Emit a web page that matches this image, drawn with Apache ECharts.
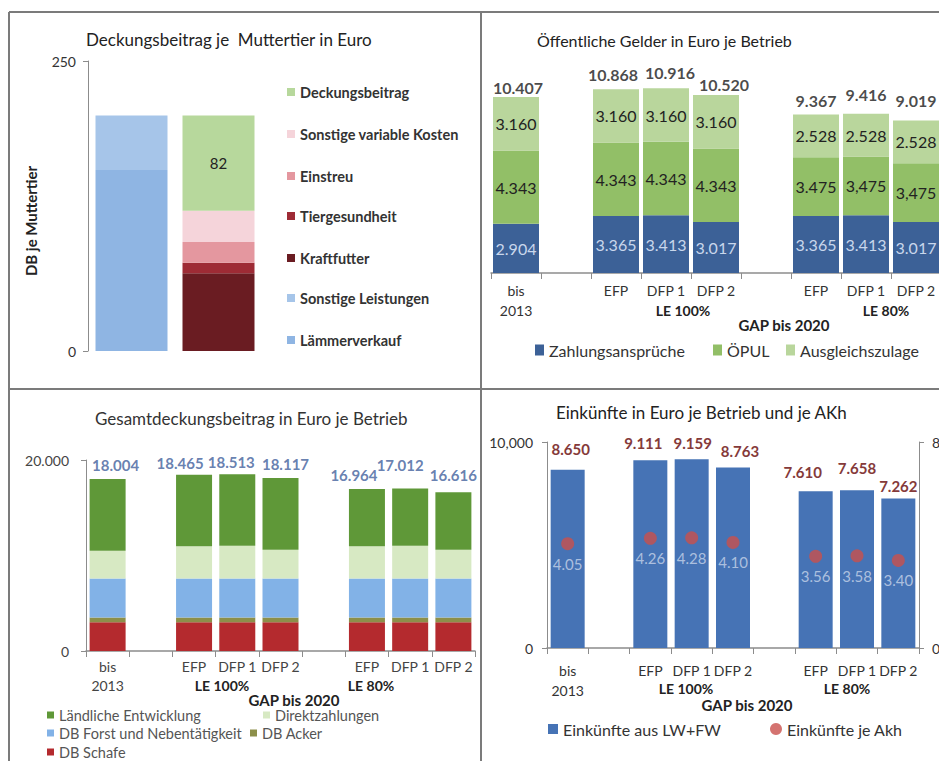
<!DOCTYPE html>
<html>
<head>
<meta charset="utf-8">
<title>Schafhaltung - GAP bis 2020</title>
<script src="https://cdn.jsdelivr.net/npm/echarts@6/dist/echarts.min.js"></script>
<style>
  html, body { margin: 0; padding: 0; background: #fff; }
  #chart { width: 939px; height: 761px; }
</style>
</head>
<body>
<div id="chart"></div>
<script>
// --- Deckungsbeitrag je Muttertier (oben links)
var dbCats = ['Leistungen', 'Kosten'];
var laemmerverkauf = [156, '-'];
var sonstigeLeistungen = [47, '-'];
var kraftfutter = ['-', 67];
var tiergesundheit = ['-', 9];
var einstreu = ['-', 18];
var sonstigeKosten = ['-', 27];
var deckungsbeitrag = ['-', 82];

// --- Szenarien (gleiche Kategorien in den anderen drei Grafiken)
var scenarios = ['bis\n2013', '', 'EFP', 'DFP 1', 'DFP 2', '', 'EFP', 'DFP 1', 'DFP 2'];

// --- Öffentliche Gelder in Euro je Betrieb (oben rechts)
var zahlungsansprueche = [2904, '-', 3365, 3413, 3017, '-', 3365, 3413, 3017];
var oepul = [4343, '-', 4343, 4343, 4343, '-', 3475, 3475, 3475];
var oepulText = ['4.343', '', '4.343', '4.343', '4.343', '', '3.475', '3,475', '3,475'];
var ausgleichszulage = [3160, '-', 3160, 3160, 3160, '-', 2528, 2528, 2528];
var gelderSumme = [10407, '-', 10868, 10916, 10520, '-', 9367, 9416, 9019];

// --- Gesamtdeckungsbeitrag in Euro je Betrieb (unten links)
var dbSchafe = [3000, '-', 3000, 3000, 3000, '-', 3000, 3000, 3000];
var dbAcker = [500, '-', 500, 500, 500, '-', 500, 500, 500];
var dbForst = [4097, '-', 4097, 4097, 4097, '-', 4097, 4097, 4097];
var direktzahlungen = [2904, '-', 3365, 3413, 3017, '-', 3365, 3413, 3017];
var laendlicheEntw = [7503, '-', 7503, 7503, 7503, '-', 6003, 6003, 6003];
var gdbSumme = [18004, '-', 18465, 18513, 18117, '-', 16964, 17012, 16616];

// --- Einkünfte in Euro je Betrieb und je AKh (unten rechts)
var einkuenfte = [8650, '-', 9111, 9159, 8763, '-', 7610, 7658, 7262];
var einkuenfteAkh = [4.05, '-', 4.26, 4.28, 4.10, '-', 3.56, 3.58, 3.40];

// label nudges, so the totals sit where Excel put them
var offGelder = [[2, -9], null, [-3, -15], [4, -16], [8, -11], null, [0, -14], [0, -19], [0, -20]];
var offGdb = [[8, -14], null, [-14, -12], [-6, -12], [5, -14], null, [-13, -14], [-10, -24], [0, -17]];
var offEink = [[3, -8], null, [-7, -5], [1, -4], [7, -4], null, [-13, -7], [0, -10], [0, 0]];

var FONT = 'Lato, "Open Sans", sans-serif';
var AXIS = '#8c8c8c';

function dot(v) { return String(v).replace(/\B(?=(\d{3})+(?!\d))/g, '.'); }
function comma(v) { return String(v).replace(/\B(?=(\d{3})+(?!\d))/g, ','); }

function withOffset(arr, offs) {
  return arr.map(function (v, i) {
    if (v === '-') return '-';
    return { value: v, label: { offset: offs[i] } };
  });
}

function legendAt(name, x, yMid, o) {
  o = o || {};
  return {
    data: [name], left: x, top: yMid - 9, padding: 0, selectedMode: false,
    icon: o.icon || 'rect', itemWidth: o.w || 8, itemHeight: o.h || 8,
    textStyle: {
      fontFamily: FONT, fontSize: o.size || 13, lineHeight: 18,
      fontWeight: o.bold ? 'bold' : 'normal', color: o.color || '#333'
    }
  };
}

function titleAt(text, x, yMid, size, color) {
  return {
    text: text, left: x, top: yMid - 10, padding: 0,
    textStyle: { fontFamily: FONT, fontSize: size, lineHeight: 20, fontWeight: 'normal', color: color || '#222' }
  };
}

function scenarioAxis(grid, margin, size, lh, color) {
  return {
    type: 'category', gridIndex: grid, data: scenarios,
    axisLine: { show: true, lineStyle: { color: AXIS, width: 1.5 } },
    axisTick: { show: true, interval: 0, length: 6, lineStyle: { color: AXIS } },
    axisLabel: { interval: 0, margin: margin, fontSize: size, lineHeight: lh, color: color, fontFamily: FONT },
    splitLine: { show: false }
  };
}

function valueAxis(grid, max, fmt, extra) {
  var ax = {
    type: 'value', gridIndex: grid, min: 0, max: max, interval: max,
    axisLine: { show: true, lineStyle: { color: AXIS } },
    axisTick: { show: true, length: 5, lineStyle: { color: AXIS } },
    axisLabel: { fontSize: 14, color: '#333', fontFamily: FONT, formatter: fmt },
    splitLine: { show: false }
  };
  return Object.assign(ax, extra || {});
}

function groupText(text, x, y, size) {
  return {
    type: 'text', x: x, y: y,
    style: { text: text, align: 'center', verticalAlign: 'middle', textAlign: 'center', textVerticalAlign: 'middle',
             font: 'bold ' + size + 'px ' + FONT, fill: '#222' }
  };
}

function line(x1, y1, x2, y2) {
  return { type: 'line', shape: { x1: x1, y1: y1, x2: x2, y2: y2 }, style: { stroke: '#7b7b7b', lineWidth: 2 } };
}

var chart = echarts.init(document.getElementById('chart'), null, { renderer: 'svg' });

var option = {
  animation: false,
  textStyle: { fontFamily: FONT },
  title: [
    titleAt('Deckungsbeitrag je  Muttertier in Euro', 86, 39, 17),
    titleAt('Öffentliche Gelder in Euro je Betrieb', 537, 40, 16),
    titleAt('Gesamtdeckungsbeitrag in Euro je Betrieb', 95, 418, 17, '#333'),
    titleAt('Einkünfte in Euro je Betrieb und je AKh', 556, 412, 17)
  ],
  legend: [
    legendAt('Deckungsbeitrag', 287, 92, { bold: true, size: 14.5 }),
    legendAt('Sonstige variable Kosten', 287, 134, { bold: true, size: 14.5 }),
    legendAt('Einstreu', 287, 176, { bold: true, size: 14.5 }),
    legendAt('Tiergesundheit', 287, 216, { bold: true, size: 14.5 }),
    legendAt('Kraftfutter', 287, 258, { bold: true, size: 14.5 }),
    legendAt('Sonstige Leistungen', 287, 298, { bold: true, size: 14.5 }),
    legendAt('Lämmerverkauf', 287, 340, { bold: true, size: 14.5 }),

    legendAt('Zahlungsansprüche', 535, 350, { w: 9, h: 11, size: 16 }),
    legendAt('ÖPUL', 713, 350, { w: 9, h: 11, size: 16 }),
    legendAt('Ausgleichszulage', 786, 350, { w: 9, h: 11, size: 16 }),

    legendAt('Ländliche Entwicklung', 47, 715, { w: 7, h: 7, size: 14.5, color: '#555' }),
    legendAt('Direktzahlungen', 263, 715, { w: 7, h: 7, size: 14.5, color: '#555' }),
    legendAt('DB Forst und Nebentätigkeit', 47, 733, { w: 7, h: 7, size: 14.5, color: '#555' }),
    legendAt('DB Acker', 250, 733, { w: 7, h: 7, size: 14.5, color: '#555' }),
    legendAt('DB Schafe', 47, 752, { w: 7, h: 7, size: 14.5, color: '#555' }),

    legendAt('Einkünfte aus LW+FW', 548, 729, { w: 10, h: 10, size: 16 }),
    legendAt('Einkünfte je Akh', 770, 729, { icon: 'circle', w: 12, h: 12, size: 16 })
  ],
  grid: [
    { left: 88, top: 61, width: 174, height: 290, outerBoundsMode: 'none' },
    { left: 491, top: 70, width: 450, height: 203, outerBoundsMode: 'none' },
    { left: 86, top: 460, width: 389, height: 191, outerBoundsMode: 'none' },
    { left: 547, top: 442, width: 372, height: 206, outerBoundsMode: 'none' }
  ],
  xAxis: [
    { type: 'category', gridIndex: 0, data: dbCats, show: false },
    scenarioAxis(1, 7, 14, 20, '#333'),
    scenarioAxis(2, 6, 14, 19, '#444'),
    scenarioAxis(3, 12, 14, 20, '#333')
  ],
  yAxis: [
    valueAxis(0, 250, null, { axisLabel: { fontSize: 14, color: '#333', fontFamily: FONT, margin: 12 } }),
    { type: 'value', gridIndex: 1, min: 0, max: 12000, show: false },
    valueAxis(2, 20000, function (v) { return dot(v); }, { axisLabel: { fontSize: 14, color: '#444', fontFamily: FONT, margin: 17, formatter: function (v) { return dot(v); } } }),
    valueAxis(3, 10000, function (v) { return comma(v); }, { axisLabel: { fontSize: 14, color: '#333', fontFamily: FONT, margin: 14, formatter: function (v) { return comma(v); } } }),
    valueAxis(3, 8, null, { position: 'right', axisLabel: { fontSize: 14, color: '#333', fontFamily: FONT, margin: 13 } })
  ],
  series: [
    // oben links
    { name: 'Lämmerverkauf', type: 'bar', xAxisIndex: 0, yAxisIndex: 0, stack: 'mt', barWidth: 72,
      data: laemmerverkauf, itemStyle: { color: '#8fb5e3' } },
    { name: 'Sonstige Leistungen', type: 'bar', xAxisIndex: 0, yAxisIndex: 0, stack: 'mt', barWidth: 72,
      data: sonstigeLeistungen, itemStyle: { color: '#a6c5e9' } },
    { name: 'Kraftfutter', type: 'bar', xAxisIndex: 0, yAxisIndex: 0, stack: 'mt', barWidth: 72,
      data: kraftfutter, itemStyle: { color: '#6a1c22' } },
    { name: 'Tiergesundheit', type: 'bar', xAxisIndex: 0, yAxisIndex: 0, stack: 'mt', barWidth: 72,
      data: tiergesundheit, itemStyle: { color: '#9e2b35' } },
    { name: 'Einstreu', type: 'bar', xAxisIndex: 0, yAxisIndex: 0, stack: 'mt', barWidth: 72,
      data: einstreu, itemStyle: { color: '#e4979f' } },
    { name: 'Sonstige variable Kosten', type: 'bar', xAxisIndex: 0, yAxisIndex: 0, stack: 'mt', barWidth: 72,
      data: sonstigeKosten, itemStyle: { color: '#f5d4da' } },
    { name: 'Deckungsbeitrag', type: 'bar', xAxisIndex: 0, yAxisIndex: 0, stack: 'mt', barWidth: 72,
      data: deckungsbeitrag, itemStyle: { color: '#b7d89c' },
      label: { show: true, position: 'inside', fontSize: 15, color: '#222' } },

    // oben rechts
    { name: 'Zahlungsansprüche', type: 'bar', xAxisIndex: 1, yAxisIndex: 1, stack: 'gelder', barWidth: 46,
      data: zahlungsansprueche, itemStyle: { color: '#3c6197' },
      label: { show: true, position: 'inside', fontSize: 16, color: '#c9d7ec', formatter: function (p) { return dot(p.value); } } },
    { name: 'ÖPUL', type: 'bar', xAxisIndex: 1, yAxisIndex: 1, stack: 'gelder', barWidth: 46,
      data: oepul, itemStyle: { color: '#92bf67' },
      label: { show: true, position: 'inside', fontSize: 16, color: '#222', formatter: function (p) { return oepulText[p.dataIndex]; } } },
    { name: 'Ausgleichszulage', type: 'bar', xAxisIndex: 1, yAxisIndex: 1, stack: 'gelder', barWidth: 46,
      data: ausgleichszulage, itemStyle: { color: '#b9d69c' },
      label: { show: true, position: 'inside', fontSize: 16, color: '#222', formatter: function (p) { return dot(p.value); } } },
    { name: 'Summe Gelder', type: 'scatter', xAxisIndex: 1, yAxisIndex: 1, symbolSize: 1, z: 5,
      data: withOffset(gelderSumme, offGelder), itemStyle: { color: 'rgba(0,0,0,0)' },
      label: { show: true, position: 'inside', fontSize: 16, fontWeight: 'bold', color: '#1a1a1a',
               formatter: function (p) { return dot(p.value); } } },

    // unten links
    { name: 'DB Schafe', type: 'bar', xAxisIndex: 2, yAxisIndex: 2, stack: 'gdb', barWidth: 36,
      data: dbSchafe, itemStyle: { color: '#b42a2e' } },
    { name: 'DB Acker', type: 'bar', xAxisIndex: 2, yAxisIndex: 2, stack: 'gdb', barWidth: 36,
      data: dbAcker, itemStyle: { color: '#8c8f4a' } },
    { name: 'DB Forst und Nebentätigkeit', type: 'bar', xAxisIndex: 2, yAxisIndex: 2, stack: 'gdb', barWidth: 36,
      data: dbForst, itemStyle: { color: '#82b2e7' } },
    { name: 'Direktzahlungen', type: 'bar', xAxisIndex: 2, yAxisIndex: 2, stack: 'gdb', barWidth: 36,
      data: direktzahlungen, itemStyle: { color: '#d7e9c3' } },
    { name: 'Ländliche Entwicklung', type: 'bar', xAxisIndex: 2, yAxisIndex: 2, stack: 'gdb', barWidth: 36,
      data: laendlicheEntw, itemStyle: { color: '#5f9838' } },
    { name: 'Summe GDB', type: 'scatter', xAxisIndex: 2, yAxisIndex: 2, symbolSize: 1, z: 5,
      data: withOffset(gdbSumme, offGdb), itemStyle: { color: 'rgba(0,0,0,0)' },
      label: { show: true, position: 'inside', fontSize: 15, fontWeight: 'bold', color: '#41609c',
               formatter: function (p) { return dot(p.value); } } },

    // unten rechts
    { name: 'Einkünfte aus LW+FW', type: 'bar', xAxisIndex: 3, yAxisIndex: 3, barWidth: 34,
      data: withOffset(einkuenfte, offEink), itemStyle: { color: '#4673b5' },
      label: { show: true, position: 'top', distance: 5, fontSize: 15, fontWeight: 'bold', color: '#853a3a',
               formatter: function (p) { return dot(p.value); } } },
    { name: 'Einkünfte je Akh', type: 'scatter', xAxisIndex: 3, yAxisIndex: 4, symbolSize: 13,
      data: einkuenfteAkh, itemStyle: { color: '#c9504c' },
      label: { show: true, position: 'bottom', distance: 6, fontSize: 15, color: '#c8d5ea',
               formatter: function (p) { return p.value.toFixed(2); } } }
  ],
  graphic: [
    line(9, 12, 939, 12),
    line(9, 12, 9, 761),
    line(481, 12, 481, 761),
    line(9, 389, 939, 389),
    {
      type: 'text', x: 31, y: 221, rotation: Math.PI / 2,
      style: { text: 'DB je Muttertier', align: 'center', verticalAlign: 'middle', textAlign: 'center', textVerticalAlign: 'middle',
               font: 'bold 15px ' + FONT, fill: '#222' }
    },
    groupText('LE 100%', 683, 310, 14),
    groupText('LE 80%', 886, 310, 14),
    groupText('GAP bis 2020', 784, 325, 15),
    groupText('LE 100%', 222, 685, 14),
    groupText('LE 80%', 371, 685, 14),
    groupText('GAP bis 2020', 294, 700, 15),
    groupText('LE 100%', 686, 688, 14),
    groupText('LE 80%', 847, 688, 14),
    groupText('GAP bis 2020', 747, 705, 15)
  ]
};

chart.setOption(option);
</script>
</body>
</html>
